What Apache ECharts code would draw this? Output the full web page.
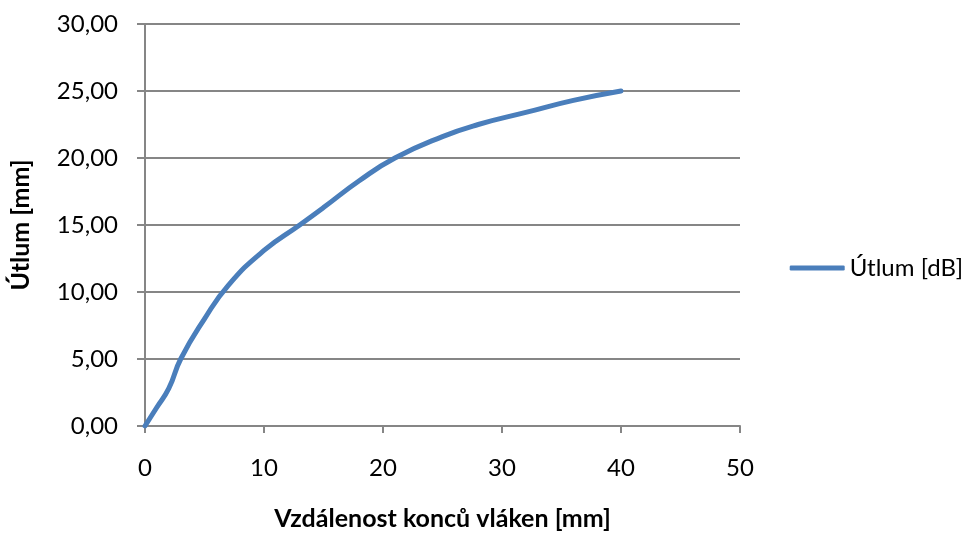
<!DOCTYPE html>
<html><head><meta charset="utf-8">
<script src="https://cdn.jsdelivr.net/npm/echarts@6/dist/echarts.min.js"></script>
<style>html,body{margin:0;padding:0;background:#fff}#c{width:972px;height:536px}</style>
</head><body><div id="c"></div>
<script>
const distances = [0, 1, 2, 3, 5, 7, 10, 13, 15, 18, 21, 25, 28, 32, 36, 40];
const attenuation = [0, 1.4, 2.8, 5.0, 8.0, 10.5, 13.1, 15.0, 16.3, 18.3, 20.0, 21.6, 22.5, 23.4, 24.3, 25.0];
const seriesName = 'Útlum [dB]';
const xTitle = 'Vzdálenost konců vláken [mm]';
const yTitle = 'Útlum [mm]';

const font = 'Lato, "Open Sans", sans-serif';
const gray = '#868686';
const chart = echarts.init(document.getElementById('c'), null, {renderer: 'canvas'});
chart.setOption({
  animation: false,
  backgroundColor: '#fff',
  grid: {left: 145, right: 232, top: 24, bottom: 108},
  legend: {
    right: 4, top: 'middle', orient: 'vertical',
    data: [{name: seriesName, icon: 'roundRect'}],
    itemWidth: 55, itemHeight: 5, itemGap: 5,
    textStyle: {fontFamily: font, fontSize: 24, color: '#000'}
  },
  xAxis: {
    type: 'value', min: 0, max: 50, interval: 10,
    name: xTitle, nameLocation: 'middle', nameGap: 80,
    nameTextStyle: {fontFamily: font, fontSize: 25, fontWeight: 'bold', color: '#000'},
    axisLine: {lineStyle: {color: gray, width: 2}},
    axisTick: {show: true, length: 7, lineStyle: {color: gray, width: 2}},
    axisLabel: {fontFamily: font, fontSize: 24, color: '#000', margin: 30},
    splitLine: {show: false}
  },
  yAxis: {
    type: 'value', min: 0, max: 30, interval: 5,
    name: yTitle, nameLocation: 'middle', nameGap: 112, nameRotate: 90,
    nameTextStyle: {fontFamily: font, fontSize: 25, fontWeight: 'bold', color: '#000'},
    axisLine: {show: true, lineStyle: {color: gray, width: 2}},
    axisTick: {show: true, length: 8, lineStyle: {color: gray, width: 2}},
    axisLabel: {fontFamily: font, fontSize: 24, color: '#000', margin: 27,
      formatter: v => v.toFixed(2).replace('.', ',')},
    splitLine: {show: true, lineStyle: {color: gray, width: 2}}
  },
  series: [{
    name: seriesName, type: 'line', smooth: 0.5,
    data: distances.map((d, i) => [d, attenuation[i]]),
    showSymbol: false, symbol: 'none',
    lineStyle: {color: '#4a7ebb', width: 5, cap: 'round', join: 'round'},
    itemStyle: {color: '#4a7ebb'}
  }]
});
</script></body></html>
